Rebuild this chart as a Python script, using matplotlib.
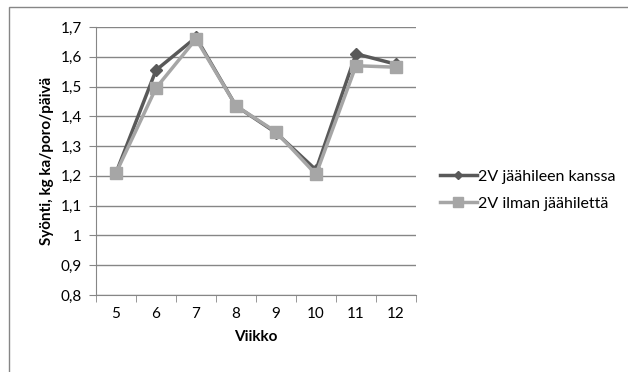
import numpy as np
import matplotlib.pyplot as plt
from matplotlib.patches import Rectangle

plt.rcParams['font.family'] = ['Lato', 'DejaVu Sans']

weeks = ['5', '6', '7', '8', '9', '10', '11', '12']
with_ice = [1.21, 1.555, 1.665, 1.435, 1.345, 1.22, 1.61, 1.575]
without_ice = [1.21, 1.495, 1.66, 1.435, 1.348, 1.205, 1.57, 1.565]
label_with = '2V jäähileen kanssa'
label_without = '2V ilman jäähilettä'

W, H = 628, 372
fig = plt.figure(figsize=(W / 100, H / 100), dpi=100)
# outer chart frame
fig.patches.append(Rectangle((9 / W, -0.1), 1.2, 1 - 7 / H + 0.1, transform=fig.transFigure,
                             fill=False, edgecolor='#868686', lw=1))

ax = fig.add_axes([96 / W, 1 - 295 / H, 320 / W, 268 / H])
x = np.arange(len(weeks))
ax.set_xlim(-0.5, len(weeks) - 0.5)
ax.set_ylim(0.8, 1.7)
ax.set_yticks(np.arange(0.8, 1.71, 0.1))
ax.set_yticklabels(['0,8', '0,9', '1', '1,1', '1,2', '1,3', '1,4', '1,5', '1,6', '1,7'])
ax.set_xticks(x)
ax.set_xticklabels(weeks)
ax.set_xticks(np.arange(-0.5, len(weeks)), minor=True)
ax.tick_params(axis='x', which='major', length=0, pad=9, labelsize=11)
ax.tick_params(axis='x', which='minor', length=5, color='#868686')
ax.tick_params(axis='y', length=5, color='#868686', pad=5, labelsize=11)
ax.grid(axis='y', color='#868686', lw=1)
ax.set_axisbelow(True)
for s in ['top', 'right']:
    ax.spines[s].set_visible(False)
for s in ['left', 'bottom']:
    ax.spines[s].set_color('#868686')

ax.plot(x, with_ice, color='#595959', lw=2.5, marker='D', ms=6, label=label_with, zorder=3)
ax.plot(x, without_ice, color='#a6a6a6', lw=2.5, marker='s', ms=9, label=label_without, zorder=4)

ax.set_xlabel('Viikko', fontweight='bold', fontsize=11, labelpad=6)
ax.set_ylabel('Syönti, kg ka/poro/päivä', fontweight='bold', fontsize=11, labelpad=5)

ax.legend(loc='center left', bbox_to_anchor=(440 / W, 1 - 190 / H), bbox_transform=fig.transFigure,
          frameon=False, fontsize=11.5, borderpad=0, borderaxespad=0, markerscale=0.75,
          handlelength=2.3, handletextpad=0.1, labelspacing=0.8)

fig.savefig('out.png', dpi=100)
